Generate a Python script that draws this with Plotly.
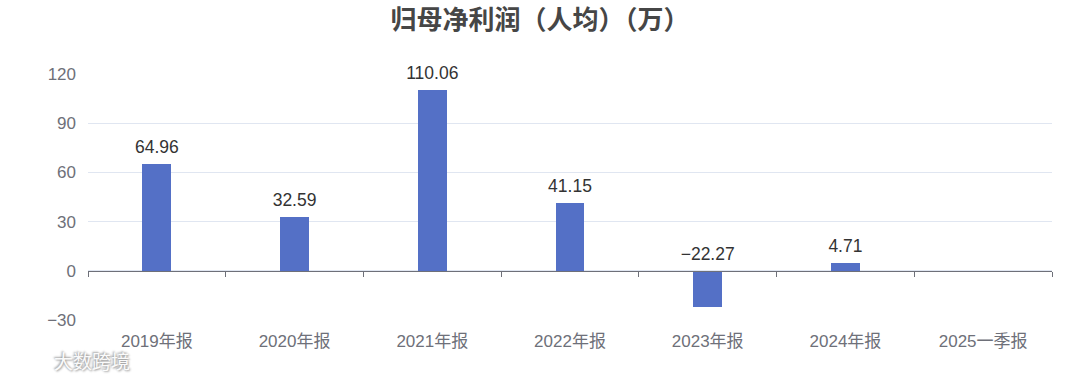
import plotly.graph_objects as go

categories = ["2019年报", "2020年报", "2021年报", "2022年报", "2023年报", "2024年报", "2025一季报"]
values = [64.96, 32.59, 110.06, 41.15, -22.27, 4.71, None]
y_ticks = [-30, 0, 30, 60, 90, 120]

FONT = "Liberation Sans, Noto Sans CJK SC"
CJK = "Noto Sans CJK SC"
label_y = [max(v, 0) if v is not None else None for v in values]
label_text = [f"{v:.2f}".replace("-", "\u2212") if v is not None else "" for v in values]

fig = go.Figure()
fig.add_trace(go.Bar(
    x=categories, y=values, width=0.21,
    marker=dict(color="#5470c6", line=dict(width=0)),
    hoverinfo="x+y", xaxis="x", yaxis="y",
))
fig.add_trace(go.Scatter(
    x=categories, y=label_y, mode="markers+text", text=label_text,
    textposition="top center",
    marker=dict(size=9, color="rgba(0,0,0,0)"),
    textfont=dict(family=FONT, size=17.5, color="#333333"),
    xaxis="x2", yaxis="y", hoverinfo="skip", cliponaxis=False,
))

fig.update_layout(
    width=1080, height=379,
    margin=dict(l=88, r=28, t=74, b=59),
    paper_bgcolor="white", plot_bgcolor="white",
    showlegend=False,
    title=dict(text="<b>归母净利润（人均）（万）</b>", x=0.5, xanchor="center",
               y=0.947, yanchor="middle",
               font=dict(family=CJK, size=26, color="#464646")),
    xaxis=dict(type="category", categoryorder="array", categoryarray=categories,
               showline=False, showgrid=False, ticks="", zeroline=False,
               tickfont=dict(family=FONT, size=17, color="#6e7079"),
               ticklabelstandoff=9),
    xaxis2=dict(type="category", categoryorder="array", categoryarray=categories,
                overlaying="x", matches="x", anchor="free", position=0.2,
                showline=True, linecolor="#6e7079", linewidth=1,
                ticks="outside", ticklen=5, tickcolor="#6e7079", tickson="boundaries",
                showticklabels=False, showgrid=False, zeroline=False),
    yaxis=dict(range=[-30, 120], tickvals=y_ticks, showgrid=True,
               gridcolor="#e0e6f1", gridwidth=1, zeroline=False, showline=False,
               ticks="", tickfont=dict(family=FONT, size=17, color="#6e7079"),
               ticklabelstandoff=11),
    bargap=0,
)

fig.add_annotation(
    text="大数跨境", xref="paper", yref="paper", x=-0.037, y=-0.165,
    xanchor="left", yanchor="middle", showarrow=False,
    font=dict(family=CJK, size=19, color="rgba(255,255,255,0.95)",
              shadow="1px 1px 2px #999, -1px -1px 2px #999"),
)

fig.write_html("out.html", config={"displayModeBar": False},
               post_script="document.body.style.margin='0';")
